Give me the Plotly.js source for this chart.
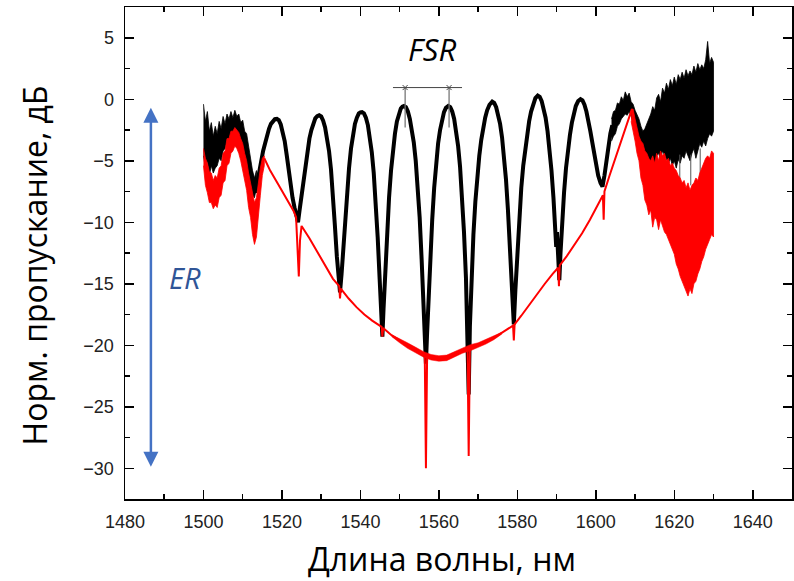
<!DOCTYPE html>
<html><head><meta charset="utf-8">
<script src="https://cdn.plot.ly/plotly-3.0.1.min.js"></script>
<style>html,body{margin:0;padding:0;background:#fff}#chart{width:794px;height:581px}</style>
</head><body><div id="chart"></div>
<script>
// ---- Black curve (through-port), regular part: [wavelength nm, dB] ----
const blackPts = [
 [1511.0,-4.5],[1511.5,-5.2],[1512.0,-6.0],[1512.5,-6.9],[1513.2,-7.6],
 [1513.7,-6.8],[1514.2,-5.8],[1514.7,-4.9],[1515.2,-4.2],[1515.7,-3.6],[1516.2,-2.9],[1516.7,-2.4],[1517.2,-2.0],[1517.7,-1.75],[1518.2,-1.62],[1518.7,-1.6],
 [1519.2,-1.7],[1519.7,-2.05],[1520.2,-2.6],[1520.7,-3.4],[1521.2,-4.5],[1521.7,-5.9],[1522.2,-7.0],[1522.7,-8.0],[1523.2,-8.8],[1523.7,-9.5],[1524.1,-10.0],
 [1524.5,-9.0],[1525.0,-7.8],[1525.5,-6.6],[1526.0,-5.4],[1526.5,-4.2],[1527.0,-3.2],[1527.5,-2.5],[1528.0,-1.9],[1528.5,-1.55],[1529.0,-1.38],[1529.5,-1.3],
 [1530.0,-1.4],[1530.5,-1.75],[1531.0,-2.3],[1531.5,-3.1],[1532.0,-4.2],[1532.5,-5.7],[1533.0,-7.7],[1533.5,-10.3],[1534.0,-12.8],[1534.4,-14.5],[1534.8,-15.7],
 [1535.2,-14.2],[1535.6,-12.3],[1536.1,-9.8],[1536.6,-7.5],[1537.1,-5.6],[1537.6,-4.0],[1538.1,-2.9],[1538.6,-2.0],[1539.1,-1.5],[1539.6,-1.15],[1540.0,-1.07],[1540.4,-1.05],
 [1540.9,-1.15],[1541.4,-1.5],[1541.9,-2.1],[1542.4,-3.0],[1542.9,-4.3],[1543.4,-6.0],[1543.9,-8.3],[1544.4,-11.2],[1544.9,-14.6],[1545.3,-17.2],[1545.6,-19.3],
 [1545.9,-17.0],[1546.3,-14.0],[1546.8,-10.8],[1547.3,-8.0],[1547.8,-5.8],[1548.3,-4.1],[1548.8,-2.8],[1549.3,-1.8],[1549.8,-1.15],[1550.3,-0.75],[1550.7,-0.6],[1551.1,-0.55],
 [1551.6,-0.65],[1552.1,-1.0],[1552.6,-1.6],[1553.1,-2.4],[1553.6,-3.5],[1554.1,-5.0],[1554.6,-7.0],[1555.1,-9.6],[1555.6,-13.0],[1556.1,-16.5],[1556.4,-19.0],[1556.7,-21.5],
 [1557.0,-19.0],[1557.3,-16.5],[1557.8,-13.0],[1558.3,-9.8],[1558.8,-7.2],[1559.3,-5.1],[1559.8,-3.6],[1560.3,-2.5],[1560.8,-1.6],[1561.3,-1.05],[1561.8,-0.7],[1562.4,-0.55],
 [1562.9,-0.65],[1563.4,-1.0],[1563.9,-1.6],[1564.4,-2.5],[1564.9,-3.8],[1565.4,-5.5],[1565.9,-7.8],[1566.4,-10.8],[1566.9,-14.5],[1567.3,-18.5],[1567.6,-24.0],
 [1567.9,-18.5],[1568.3,-14.5],[1568.8,-11.0],[1569.3,-8.3],[1569.8,-6.2],[1570.3,-4.6],[1570.8,-3.3],[1571.3,-2.3],[1571.8,-1.5],[1572.3,-0.9],[1572.9,-0.45],[1573.6,-0.2],
 [1574.1,-0.3],[1574.6,-0.65],[1575.1,-1.2],[1575.6,-2.0],[1576.1,-3.1],[1576.6,-4.6],[1577.1,-6.5],[1577.6,-9.0],[1578.1,-12.0],[1578.6,-15.3],[1579.1,-18.3],
 [1579.5,-15.5],[1580.0,-12.2],[1580.5,-9.4],[1581.0,-7.2],[1581.5,-5.4],[1582.0,-4.0],[1582.5,-2.8],[1583.0,-1.8],[1583.5,-1.0],[1584.0,-0.4],[1584.6,0.1],[1585.2,0.3],
 [1585.7,0.2],[1586.2,-0.15],[1586.7,-0.7],[1587.2,-1.5],[1587.7,-2.6],[1588.2,-4.0],[1588.7,-5.8],[1589.2,-8.0],[1589.6,-10.5],[1589.9,-12.0],[1590.1,-10.8],[1590.4,-12.5],[1590.7,-14.7],
 [1591.0,-12.5],[1591.4,-10.0],[1591.9,-7.6],[1592.4,-5.6],[1592.9,-4.1],[1593.4,-2.9],[1593.9,-1.9],[1594.4,-1.1],[1594.9,-0.55],[1595.5,-0.15],[1596.1,0.0],
 [1596.6,-0.1],[1597.1,-0.45],[1597.6,-1.0],[1598.1,-1.7],[1598.6,-2.6],[1599.1,-3.5],[1599.6,-4.5],[1600.1,-5.4],[1600.6,-6.2],[1601.2,-6.8],[1601.7,-7.1],
 [1602.2,-6.2],[1602.7,-5.0],[1603.2,-3.8],[1603.7,-2.8],[1604.2,-2.1]
];

// ---- Black noisy bands (upper / lower envelopes) ----
const blackLeftX = [1500,1500.5,1501,1501.5,1502,1502.5,1503,1503.5,1504,1504.5,1505,1505.5,1506,1506.5,1507,1507.5,1508,1508.5,1509,1509.5,1510,1510.5,1511,1511.5,1512,1512.5,1513,1513.5];
const blackLeftTop = [-0.4,-1.8,-1.0,-2.6,-1.9,-3.0,-2.2,-2.8,-1.8,-2.4,-1.4,-2.0,-1.2,-1.6,-1.0,-1.5,-0.9,-1.4,-1.2,-1.9,-1.7,-2.6,-2.8,-3.8,-4.6,-5.8,-6.4,-5.8];
const blackLeftBot = [-4.6,-5.6,-5.0,-6.2,-5.4,-6.0,-5.6,-5.4,-4.8,-5.0,-4.2,-4.0,-3.4,-3.4,-3.0,-2.8,-2.7,-3.0,-3.2,-3.6,-4.2,-4.8,-5.6,-6.4,-7.2,-7.8,-8.0,-7.2];

const blackRightX = [1604,1604.5,1605,1605.5,1606,1606.5,1607,1607.5,1608,1608.5,1609,1609.5,1610,1610.5,1611,1611.5,1612,1612.5,1613,1613.5,1614,1614.5,1615,1615.5,1616,1616.5,1617,1617.5,1618,1618.5,1619,1619.5,1620,1620.5,1621,1621.5,1622,1622.5,1623,1623.5,1624,1624.5,1625,1625.5,1626,1626.5,1627,1627.5,1628,1628.5,1629,1629.5,1630];
const blackRightTop = [-1.6,-1.0,-0.9,-0.3,-0.4,0.2,-0.1,0.6,0.2,0.5,-0.2,-0.4,-0.9,-1.3,-1.6,-2.2,-2.6,-2.4,-2.0,-1.7,-1.2,-0.6,-0.9,0.1,0.4,-0.2,0.9,0.5,1.3,0.8,1.6,1.1,1.8,1.2,2.0,1.6,2.2,1.7,2.4,1.9,2.3,2.0,2.7,2.2,2.9,2.4,2.8,2.5,3.2,4.7,2.9,3.4,3.0];
const blackRightBot = [-3.4,-3.0,-2.8,-2.2,-2.0,-1.6,-1.4,-1.2,-1.3,-1.0,-1.4,-1.8,-2.2,-2.8,-3.2,-3.8,-4.4,-4.9,-5.4,-5.2,-5.6,-5.0,-5.3,-4.6,-4.4,-4.9,-4.2,-4.6,-4.9,-5.2,-4.8,-5.4,-5.0,-5.6,-4.9,-5.2,-4.6,-4.8,-4.2,-4.6,-5.0,-4.4,-4.0,-4.8,-4.2,-3.6,-3.9,-3.4,-3.8,-3.2,-2.8,-3.0,-2.6];

const blackSpikeX = [1621.4,1621.4,null,1624.2,1624.2,null,1626.6,1626.6];
const blackSpikeY = [-4.5,-7.9,null,-4.5,-7.0,null,-4.0,-8.2];

// ---- Red curve (drop-port): [wavelength nm, dB] ----
const redPts = [
 [1515.5,-4.8],[1517,-5.8],[1519,-6.9],[1521,-8.0],[1523,-9.1],[1523.6,-9.6],[1524.0,-12.0],[1524.3,-14.4],[1524.6,-11.5],[1525.0,-10.3],
 [1527,-11.3],[1529,-12.4],[1531,-13.5],[1533,-14.6],[1534.6,-15.2],[1534.8,-16.2],[1535.0,-15.4],[1537,-16.2],[1539,-16.9],[1541,-17.5],
 [1543,-18.0],[1545.4,-18.5],[1545.6,-19.3],[1545.8,-18.6],[1548,-19.2],[1550,-19.6],[1552,-20.0],[1554,-20.4],[1556.4,-20.8],[1556.7,-30.0],
 [1557.0,-20.9],[1558.5,-21.0],[1560.3,-21.1],[1562,-21.0],[1564,-20.7],[1566,-20.4],[1567.3,-20.3],[1567.6,-29.0],[1567.9,-20.2],[1570,-20.0],
 [1572,-19.7],[1574,-19.4],[1576,-19.0],[1578,-18.6],[1578.9,-18.4],[1579.1,-19.6],[1579.3,-18.3],[1581,-17.6],[1583,-16.7],[1585,-15.8],
 [1587,-15.0],[1589,-14.2],[1590.4,-13.7],[1590.6,-15.2],[1590.8,-13.5],[1592.5,-12.8],[1594.5,-11.9],[1596.5,-10.9],[1598.5,-9.8],[1600.5,-8.6],
 [1601.8,-7.8],[1602.0,-9.8],[1602.2,-7.5],[1603.5,-6.2],[1605,-4.8],[1606.5,-3.4],[1608,-2.0],[1609.2,-0.8]
];

// slightly thicker (noisy) part of the red trace near its minimum
const redMidX = [1548,1550,1552,1554,1556,1558,1560,1562,1564,1566,1568,1570,1572,1574,1576];
const redMidTop = [-19.15,-19.45,-19.8,-20.15,-20.5,-20.75,-20.85,-20.8,-20.5,-20.2,-19.95,-19.8,-19.5,-19.2,-18.95];
const redMidBot = [-19.3,-19.8,-20.25,-20.6,-20.95,-21.2,-21.3,-21.25,-20.95,-20.65,-20.45,-20.2,-19.9,-19.55,-19.1];

const redLeftX = [1500,1500.5,1501,1501.5,1502,1502.5,1503,1503.5,1504,1504.5,1505,1505.5,1506,1506.5,1507,1507.5,1508,1508.5,1509,1509.5,1510,1510.5,1511,1511.5,1512,1512.5,1513,1513.5,1514,1514.5,1515,1515.5];
const redLeftTop = [-4.0,-4.8,-5.2,-5.9,-6.0,-6.6,-6.2,-6.4,-5.6,-5.4,-4.4,-4.2,-3.2,-3.2,-2.6,-2.6,-2.3,-2.5,-2.7,-3.2,-3.6,-4.4,-5.0,-6.0,-6.8,-7.8,-8.4,-8.0,-6.6,-5.6,-4.8,-4.6];
const redLeftBot = [-5.4,-7.0,-7.6,-8.4,-8.4,-8.9,-8.6,-8.8,-8.0,-7.8,-6.8,-6.6,-5.4,-5.2,-4.4,-4.2,-3.8,-4.0,-4.4,-5.0,-5.6,-6.6,-7.4,-8.8,-9.6,-11.0,-11.8,-11.2,-9.4,-7.8,-6.2,-5.4];

const redRightX = [1609,1609.5,1610,1610.5,1611,1611.5,1612,1612.5,1613,1613.5,1614,1614.5,1615,1615.5,1616,1616.5,1617,1617.5,1618,1618.5,1619,1619.5,1620,1620.5,1621,1621.5,1622,1622.5,1623,1623.5,1624,1624.5,1625,1625.5,1626,1626.5,1627,1627.5,1628,1628.5,1629,1629.5,1630];
const redRightTop = [-0.8,-0.8,-1.6,-2.4,-3.0,-3.4,-3.6,-4.2,-4.4,-4.8,-5.0,-4.6,-5.2,-4.4,-5.0,-4.2,-4.6,-4.4,-5.0,-4.8,-5.4,-5.2,-5.6,-5.8,-6.2,-6.4,-6.8,-6.6,-7.2,-6.8,-7.4,-7.0,-6.8,-6.4,-6.6,-6.0,-5.6,-5.2,-4.8,-4.6,-4.8,-4.2,-4.4];
const redRightBot = [-1.8,-2.6,-3.4,-4.4,-5.0,-6.4,-7.0,-8.2,-8.6,-9.4,-9.0,-10.4,-9.6,-9.8,-10.6,-9.8,-10.2,-10.8,-11.0,-11.4,-11.8,-12.2,-12.6,-13.4,-13.8,-14.4,-14.8,-15.2,-15.6,-16.0,-15.4,-15.8,-15.0,-14.8,-14.2,-13.8,-13.2,-12.8,-12.2,-11.8,-11.4,-11.0,-11.2];

// ---- FSR marker and ER arrow ----
const fsrLineX = [1548.3, 1565.9];
const fsrLineY = [0.95, 0.95];
const fsrPeakX = [1551.4, 1562.6];
const fsrTickTop = 1.0, fsrTickBottom = -2.3;
const erX = 1486.6, erTop = -0.7, erBottom = -30.0;

const xTicks = [1480,1500,1520,1540,1560,1580,1600,1620,1640];
const yTicks = [5,0,-5,-10,-15,-20,-25,-30];

function band(x, top, bot, color, lw) {
  return {x: x.concat(x.slice().reverse()), y: top.concat(bot.slice().reverse()),
    type: 'scatter', mode: 'lines', fill: 'toself', fillcolor: color,
    line: {color: color, width: lw}, hoverinfo: 'skip', showlegend: false};
}

const traces = [
  band(blackLeftX, blackLeftTop, blackLeftBot, '#000000', 0.8),
  {x: blackPts.map(p => p[0]), y: blackPts.map(p => p[1]), type: 'scatter', mode: 'lines',
   line: {color: '#000', width: 4}, showlegend: false},
  band(blackRightX, blackRightTop, blackRightBot, '#000000', 0.8),
  {x: blackSpikeX, y: blackSpikeY, type: 'scatter', mode: 'lines', line: {color: '#555', width: 1}, showlegend: false},
  band(redLeftX, redLeftTop, redLeftBot, '#ff0000', 0.8),
  band(redMidX, redMidTop, redMidBot, '#ff0000', 0.5),
  {x: redPts.map(p => p[0]), y: redPts.map(p => p[1]), type: 'scatter', mode: 'lines',
   line: {color: '#ff0000', width: 2}, showlegend: false},
  band(redRightX, redRightTop, redRightBot, '#ff0000', 0.8),
  {x: fsrLineX, y: fsrLineY, type: 'scatter', mode: 'lines', line: {color: '#444', width: 1}, showlegend: false},
  {x: [fsrPeakX[0], fsrPeakX[0], null, fsrPeakX[1], fsrPeakX[1]],
   y: [fsrTickTop, fsrTickBottom, null, fsrTickTop, fsrTickBottom],
   type: 'scatter', mode: 'lines', line: {color: '#777', width: 1.3}, showlegend: false},
  {x: fsrPeakX, y: fsrLineY, type: 'scatter', mode: 'markers',
   marker: {symbol: 'x-thin', size: 5, line: {color: '#444', width: 1}}, showlegend: false}
];

const tickFont = {family: 'Liberation Sans, Arial, sans-serif', size: 18, color: '#222'};
const titleFont = {family: 'Open Sans, sans-serif', size: 32, color: '#000'};
const layout = {
  width: 794, height: 581,
  margin: {l: 125, r: 2, t: 7, b: 82},
  paper_bgcolor: '#fff', plot_bgcolor: '#fff',
  showlegend: false,
  xaxis: {
    range: [1480, 1650], tickvals: xTicks, ticks: 'inside', ticklen: 9, tickwidth: 1.5, tickcolor: '#000',
    minor: {ticks: 'inside', ticklen: 5, tickwidth: 1.5, dtick: 10, tick0: 1480, tickcolor: '#000'},
    showline: true, linewidth: 1.5, linecolor: '#000', mirror: 'ticks',
    showgrid: false, zeroline: false, tickfont: tickFont, ticklabelstandoff: 6,
    title: {text: 'Длина волны, нм&nbsp;&nbsp;&nbsp;&nbsp;', font: titleFont, standoff: 17}
  },
  yaxis: {
    range: [-32.5, 7.5], tickvals: yTicks, ticks: 'inside', ticklen: 9, tickwidth: 1.5, tickcolor: '#000',
    minor: {ticks: 'inside', ticklen: 5, tickwidth: 1.5, dtick: 2.5, tick0: 0, tickcolor: '#000'},
    showline: true, linewidth: 1.5, linecolor: '#000', mirror: 'ticks',
    showgrid: false, zeroline: false, tickfont: tickFont, ticklabelstandoff: 6,
    title: {text: 'Норм. пропускание, дБ&nbsp;&nbsp;&nbsp;', font: titleFont, standoff: 26}
  },
  annotations: [
    {x: erX, y: erTop, ax: erX, ay: erBottom, xref: 'x', yref: 'y', axref: 'x', ayref: 'y',
     text: '', showarrow: true, arrowhead: 2, startarrowhead: 2, arrowside: 'end+start',
     arrowsize: 1.2, startarrowsize: 1.2, arrowwidth: 2.5, arrowcolor: '#4472C4'},
    {x: 1495.3, y: -14.5, xref: 'x', yref: 'y', text: '<i>ER</i>', showarrow: false,
     font: {family: 'Open Sans, sans-serif', size: 29, color: '#2F5597'}},
    {x: 1558.2, y: 4.05, xref: 'x', yref: 'y', text: '<i>FSR</i>', showarrow: false,
     font: {family: 'Open Sans, sans-serif', size: 31, color: '#000'}}
  ]
};

Plotly.newPlot('chart', traces, layout, {displayModeBar: false, staticPlot: true});
</script>
</body></html>
